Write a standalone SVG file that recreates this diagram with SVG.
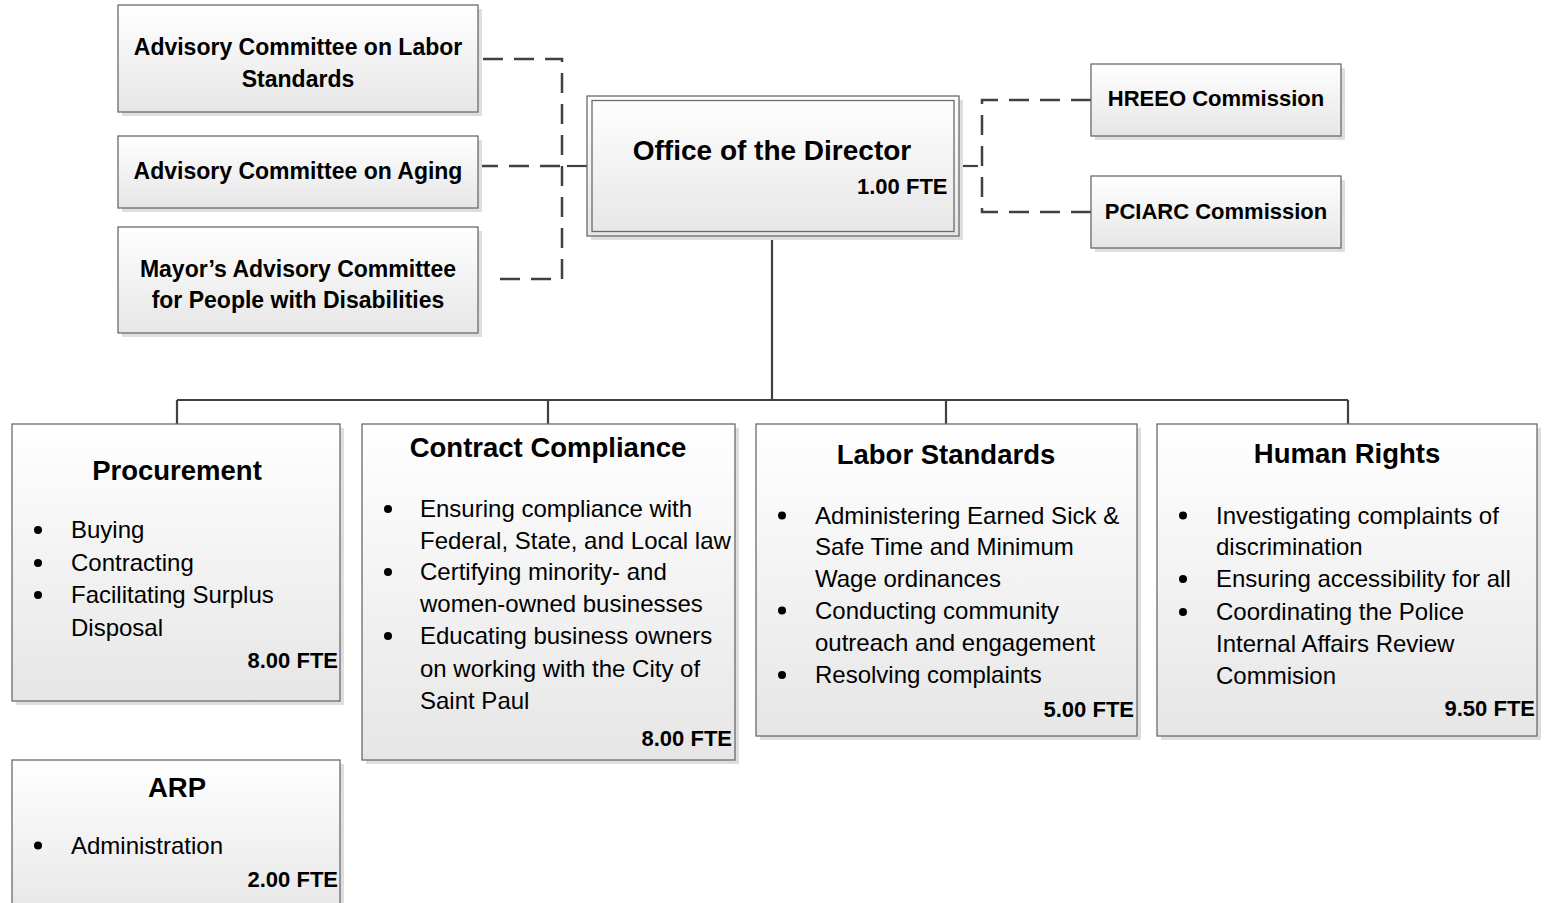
<svg xmlns="http://www.w3.org/2000/svg" width="1545" height="903" viewBox="0 0 1545 903">
<defs>
<linearGradient id="g" x1="0" y1="0" x2="0" y2="1">
<stop offset="0" stop-color="#ffffff"/>
<stop offset="1" stop-color="#e6e6e6"/>
</linearGradient>
<style>
.sh{fill:#dedede;}
.bx{fill:url(#g);stroke:#6a6a6a;stroke-width:1.3;}
.bxi{fill:none;stroke:#6a6a6a;stroke-width:1.3;}
.t{font-family:"Liberation Sans",Arial,sans-serif;fill:#000;}
.hd{font-size:27.5px;font-weight:bold;text-anchor:middle;}
.ad{font-size:23px;font-weight:bold;text-anchor:middle;}
.cm{font-size:22px;font-weight:bold;text-anchor:middle;}
.bd{font-size:24px;}
.bul{fill:#000;}
.fte{font-size:22px;font-weight:bold;text-anchor:end;}
.sol{fill:none;stroke:#404040;stroke-width:2.2;}
.dsh{fill:none;stroke:#404040;stroke-width:2.5;stroke-dasharray:20 11;}
</style>
</defs>
<rect width="1545" height="903" fill="#ffffff"/>

<g id="connectors">
<path class="sol" d="M772,236 V400 M177,400 H1348 M177,400 V424 M548,400 V424 M946,400 V424 M1348,400 V424"/>
<path class="dsh" d="M483,59 H562 V279 H490"/>
<path class="dsh" d="M478,166 H567"/>
<path class="sol" d="M567,166 H587"/>
<path class="sol" d="M959,166 H978"/>
<path class="dsh" d="M1091,100 H982 V212 H1091"/>
</g>

<g id="adv-labor">
<rect class="sh" x="122" y="9" width="360" height="107"/>
<rect class="bx" x="118" y="5" width="360" height="107"/>
<text class="t ad" x="298" y="55">Advisory Committee on Labor</text>
<text class="t ad" x="298" y="87">Standards</text>
</g>

<g id="adv-aging">
<rect class="sh" x="122" y="140" width="360" height="72"/>
<rect class="bx" x="118" y="136" width="360" height="72"/>
<text class="t ad" x="298" y="179">Advisory Committee on Aging</text>
</g>

<g id="adv-disab">
<rect class="sh" x="122" y="231" width="360" height="106"/>
<rect class="bx" x="118" y="227" width="360" height="106"/>
<text class="t ad" x="298" y="277">Mayor’s Advisory Committee</text>
<text class="t ad" x="298" y="308">for People with Disabilities</text>
</g>

<g id="director">
<rect class="sh" x="591" y="100" width="372" height="140"/>
<rect class="bx" x="587" y="96" width="372" height="140"/>
<rect class="bxi" x="592" y="100.5" width="362" height="131"/>
<text class="t" x="772" y="159.5" font-size="28px" font-weight="bold" text-anchor="middle">Office of the Director</text>
<text class="t fte" x="947.5" y="193.5">1.00 FTE</text>
</g>

<g id="hreeo">
<rect class="sh" x="1095" y="68" width="250" height="72"/>
<rect class="bx" x="1091" y="64" width="250" height="72"/>
<text class="t cm" x="1216" y="106">HREEO Commission</text>
</g>

<g id="pciarc">
<rect class="sh" x="1095" y="180" width="250" height="72"/>
<rect class="bx" x="1091" y="176" width="250" height="72"/>
<text class="t cm" x="1216" y="219">PCIARC Commission</text>
</g>

<g id="procurement">
<rect class="sh" x="16" y="428" width="328" height="277"/>
<rect class="bx" x="12" y="424" width="328" height="277"/>
<text class="t hd" x="177" y="480">Procurement</text>
<circle class="bul" cx="38" cy="530" r="4"/>
<text class="t bd" x="71" y="538">Buying</text>
<circle class="bul" cx="38" cy="563" r="4"/>
<text class="t bd" x="71" y="571">Contracting</text>
<circle class="bul" cx="38" cy="595" r="4"/>
<text class="t bd" x="71" y="603">Facilitating Surplus</text>
<text class="t bd" x="71" y="635.5">Disposal</text>
<text class="t fte" x="338" y="667.5">8.00 FTE</text>
</g>

<g id="contract">
<rect class="sh" x="366" y="428" width="373" height="336"/>
<rect class="bx" x="362" y="424" width="373" height="336"/>
<text class="t hd" x="548" y="457">Contract Compliance</text>
<circle class="bul" cx="388" cy="509" r="4"/>
<text class="t bd" x="420" y="517">Ensuring compliance with</text>
<text class="t bd" x="420" y="548.5">Federal, State, and Local law</text>
<circle class="bul" cx="388" cy="572" r="4"/>
<text class="t bd" x="420" y="580">Certifying minority- and</text>
<text class="t bd" x="420" y="612">women-owned businesses</text>
<circle class="bul" cx="388" cy="636" r="4"/>
<text class="t bd" x="420" y="644">Educating business owners</text>
<text class="t bd" x="420" y="676.5">on working with the City of</text>
<text class="t bd" x="420" y="708.5">Saint Paul</text>
<text class="t fte" x="732" y="745.5">8.00 FTE</text>
</g>

<g id="labor">
<rect class="sh" x="760" y="428" width="381" height="312"/>
<rect class="bx" x="756" y="424" width="381" height="312"/>
<text class="t hd" x="946" y="463.5">Labor Standards</text>
<circle class="bul" cx="782" cy="515.5" r="4"/>
<text class="t bd" x="815" y="523.5">Administering Earned Sick &amp;</text>
<text class="t bd" x="815" y="555">Safe Time and Minimum</text>
<text class="t bd" x="815" y="587">Wage ordinances</text>
<circle class="bul" cx="782" cy="610.5" r="4"/>
<text class="t bd" x="815" y="618.5">Conducting community</text>
<text class="t bd" x="815" y="650.5">outreach and engagement</text>
<circle class="bul" cx="782" cy="675" r="4"/>
<text class="t bd" x="815" y="683">Resolving complaints</text>
<text class="t fte" x="1134" y="716.5">5.00 FTE</text>
</g>

<g id="humanrights">
<rect class="sh" x="1161" y="428" width="380" height="312"/>
<rect class="bx" x="1157" y="424" width="380" height="312"/>
<text class="t hd" x="1347" y="463">Human Rights</text>
<circle class="bul" cx="1183" cy="515.5" r="4"/>
<text class="t bd" x="1216" y="523.5">Investigating complaints of</text>
<text class="t bd" x="1216" y="555">discrimination</text>
<circle class="bul" cx="1183" cy="579" r="4"/>
<text class="t bd" x="1216" y="587">Ensuring accessibility for all</text>
<circle class="bul" cx="1183" cy="612" r="4"/>
<text class="t bd" x="1216" y="620">Coordinating the Police</text>
<text class="t bd" x="1216" y="652">Internal Affairs Review</text>
<text class="t bd" x="1216" y="683.5">Commision</text>
<text class="t fte" x="1535" y="715.5">9.50 FTE</text>
</g>

<g id="arp">
<rect class="sh" x="16" y="764" width="328" height="160"/>
<rect class="bx" x="12" y="760" width="328" height="160"/>
<text class="t hd" x="177" y="797">ARP</text>
<circle class="bul" cx="38" cy="845.5" r="4"/>
<text class="t bd" x="71" y="853.5">Administration</text>
<text class="t fte" x="338" y="887">2.00 FTE</text>
</g>
</svg>
